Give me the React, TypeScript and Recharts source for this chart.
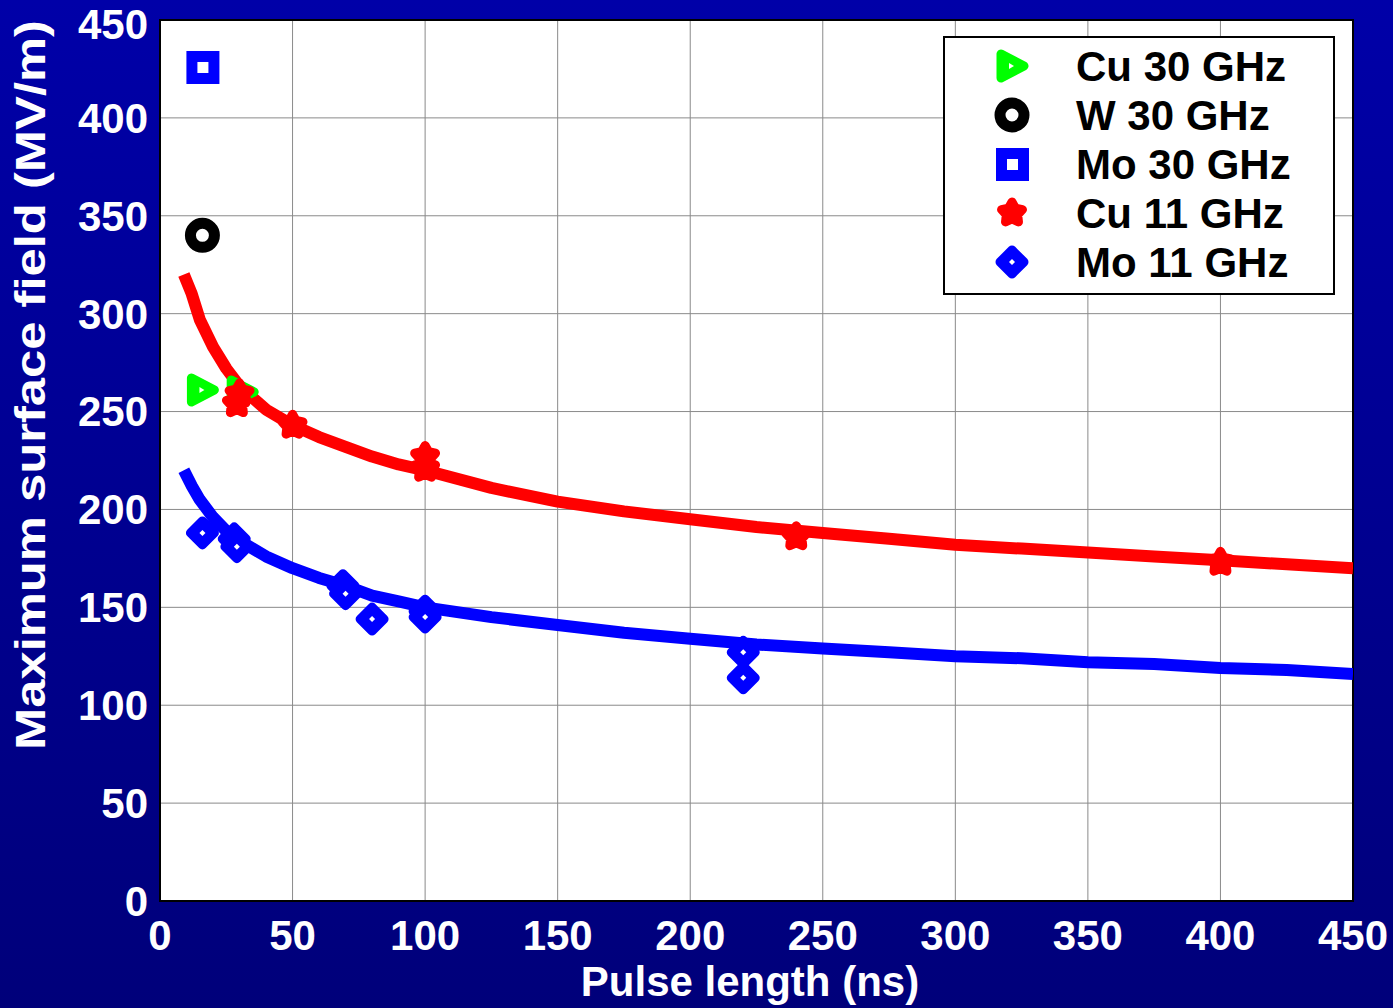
import React from 'react';
import { ComposedChart, Line, Scatter, XAxis, YAxis, CartesianGrid, ReferenceArea } from 'recharts';

const ticks = [0, 50, 100, 150, 200, 250, 300, 350, 400, 450];

// fitted curves
const fitX = [9, 12, 15, 20, 25, 30, 40, 50, 60, 70, 80, 90, 100, 125, 150, 175, 200, 225, 250, 275, 300, 325, 350, 375, 400, 425, 450];
const cuFitY = [320, 310, 297, 283, 272, 263, 251, 243, 237, 232, 227, 223, 220, 211, 204, 199, 195, 191, 188, 185, 182, 180, 178, 176, 174, 172, 170];
const moFitY = [220, 212, 205, 196, 189, 184, 176, 170, 165, 161, 156, 153, 150, 145, 141, 137, 134, 131, 129, 127, 125, 124, 122, 121, 119, 118, 116];

// measured points
const cu30 = [{ x: 16, y: 261 }, { x: 31, y: 260 }];
const w30 = [{ x: 16, y: 340 }];
const mo30 = [{ x: 16, y: 426 }];
const cu11 = [
  { x: 29, y: 254 }, { x: 30, y: 259 }, { x: 50, y: 243 }, { x: 100, y: 227 },
  { x: 100, y: 221 }, { x: 240, y: 186 }, { x: 400, y: 173 },
];
const mo11 = [
  { x: 16, y: 188 }, { x: 28, y: 185 }, { x: 29, y: 181 }, { x: 69, y: 161 }, { x: 70, y: 157 },
  { x: 80, y: 144 }, { x: 100, y: 148 }, { x: 100, y: 145 }, { x: 220, y: 127 }, { x: 220, y: 114 },
];

const cuFit = fitX.map((x, i) => ({ x, y: cuFitY[i] }));
const moFit = fitX.map((x, i) => ({ x, y: moFitY[i] }));

const FONT = '"Liberation Sans", Arial, sans-serif';

const Tri = ({ cx, cy }: any) => (
  <g>
    <polygon points={`${cx - 11},${cy - 12} ${cx - 11},${cy + 12} ${cx + 12},${cy}`} fill="#00ff00" stroke="#00ff00" strokeWidth={9} strokeLinejoin="round" />
    <polygon points={`${cx - 3},${cy - 3} ${cx - 3},${cy + 3} ${cx + 2},${cy}`} fill="#fff" />
  </g>
);
const Ring = ({ cx, cy }: any) => (
  <circle cx={cx} cy={cy} r={12} fill="#fff" stroke="#000" strokeWidth={11} />
);
const Sq = ({ cx, cy }: any) => (
  <g>
    <rect x={cx - 16} y={cy - 16} width={33} height={33} fill="#0000ff" />
    <rect x={cx - 5} y={cy - 5} width={11} height={11} fill="#fff" />
  </g>
);
const Star = ({ cx, cy }: any) => {
  const pts: string[] = [];
  for (let i = 0; i < 10; i++) {
    const r = i % 2 === 0 ? 11 : 6;
    const a = -Math.PI / 2 + (i * Math.PI) / 5;
    pts.push(`${cx + r * Math.cos(a)},${cy + r * Math.sin(a)}`);
  }
  return <polygon points={pts.join(' ')} fill="#ff0000" stroke="#ff0000" strokeWidth={9} strokeLinejoin="round" />;
};
const Dia = ({ cx, cy }: any) => (
  <g>
    <polygon points={`${cx},${cy - 12} ${cx + 12},${cy} ${cx},${cy + 12} ${cx - 12},${cy}`} fill="#0000ff" stroke="#0000ff" strokeWidth={9} strokeLinejoin="round" />
    <polygon points={`${cx},${cy - 3} ${cx + 3},${cy} ${cx},${cy + 3} ${cx - 3},${cy}`} fill="#fff" />
  </g>
);

const legendItems = [
  { name: 'Cu 30 GHz', Shape: Tri },
  { name: 'W 30 GHz', Shape: Ring },
  { name: 'Mo 30 GHz', Shape: Sq },
  { name: 'Cu 11 GHz', Shape: Star },
  { name: 'Mo 11 GHz', Shape: Dia },
];

const tickStyle = { fill: '#fff', fontSize: 42, fontWeight: 'bold', fontFamily: FONT };

export default function App() {
  return (
    <div
      style={{
        position: 'absolute', left: 0, top: 0, width: 1393, height: 1008,
        background: 'linear-gradient(#0000a8, #00007a)', fontFamily: FONT,
      }}
    >
      <ComposedChart width={1393} height={1008} margin={{ top: 20, right: 40, bottom: 57, left: 100 }}>
        <CartesianGrid fill="#fff" stroke="#8a8a8a" strokeWidth={1} horizontalValues={ticks} verticalValues={ticks} />
        <XAxis
          type="number" dataKey="x" domain={[0, 450]} ticks={ticks} allowDataOverflow
          height={50} tickSize={0} tickMargin={19} axisLine={false} tick={tickStyle}
          label={() => (
            <text x={750} y={996} textAnchor="middle" fill="#fff" fontSize={42} fontWeight="bold" fontFamily={FONT}>
              Pulse length (ns)
            </text>
          )}
        />
        <YAxis
          type="number" dataKey="y" domain={[0, 450]} ticks={ticks} allowDataOverflow
          width={60} tickSize={0} tickMargin={12} axisLine={false} tick={tickStyle}
          label={() => (
            <text
              transform="translate(45,385) rotate(-90)" textAnchor="middle" textLength={730} lengthAdjust="spacingAndGlyphs"
              fill="#fff" fontSize={42} fontWeight="bold" fontFamily={FONT}
            >
              Maximum surface field (MV/m)
            </text>
          )}
        />
        <Scatter data={cu30} dataKey="y" shape={Tri} isAnimationActive={false} />
        <Line data={cuFit} dataKey="y" stroke="#ff0000" strokeWidth={12} dot={false} strokeLinejoin="round" isAnimationActive={false} />
        <Line data={moFit} dataKey="y" stroke="#0000ff" strokeWidth={12} dot={false} strokeLinejoin="round" isAnimationActive={false} />
        <Scatter data={w30} dataKey="y" shape={Ring} isAnimationActive={false} />
        <Scatter data={mo30} dataKey="y" shape={Sq} isAnimationActive={false} />
        <Scatter data={cu11} dataKey="y" shape={Star} isAnimationActive={false} />
        <Scatter data={mo11} dataKey="y" shape={Dia} isAnimationActive={false} />
        <ReferenceArea x1={0} x2={450} y1={0} y2={450} fill="none" stroke="#000" strokeWidth={2} ifOverflow="visible" />
      </ComposedChart>
      <div
        style={{
          position: 'absolute', left: 943, top: 36, width: 388, height: 255,
          background: '#fff', border: '2px solid #000',
        }}
      >
        {legendItems.map(({ name, Shape }, i) => (
          <div key={name} style={{ position: 'absolute', left: 0, top: 4 + i * 49, height: 49 }}>
            <svg width={60} height={49} style={{ position: 'absolute', left: 37, top: 0 }}>
              <Shape cx={30} cy={24} />
            </svg>
            <span style={{ position: 'absolute', left: 131, top: 0, fontSize: 42, fontWeight: 'bold', color: '#000', lineHeight: '49px', whiteSpace: 'nowrap' }}>
              {name}
            </span>
          </div>
        ))}
      </div>
    </div>
  );
}
